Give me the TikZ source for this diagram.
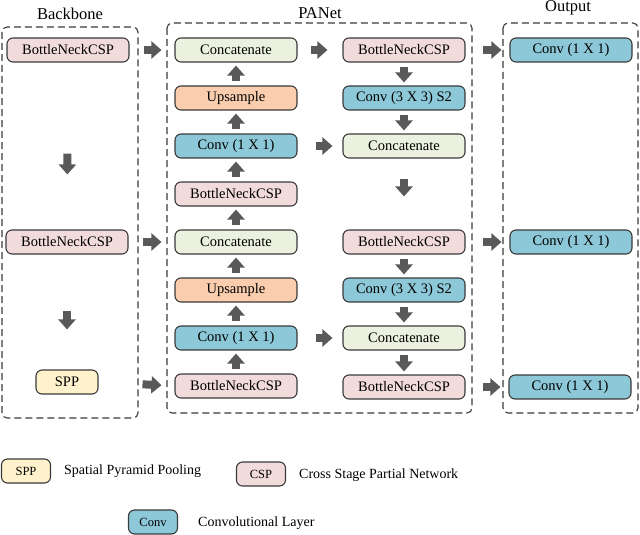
\documentclass[tikz,border=0pt]{standalone}
\usepackage{fontspec}
\setmainfont{Liberation Serif}
\usetikzlibrary{arrows.meta}
\definecolor{bordc}{HTML}{3A3A3A}
\definecolor{arrc}{HTML}{595959}
\definecolor{cspc}{HTML}{F2DCDB}
\definecolor{catc}{HTML}{EBF1DE}
\definecolor{upc}{HTML}{F9CDAE}
\definecolor{convc}{HTML}{8DC8D8}
\definecolor{sppc}{HTML}{FFF2CC}
\begin{document}
\begin{tikzpicture}[x=1pt,y=-1pt,
  box/.style={draw=bordc, line width=1.1pt, rounded corners=6pt, minimum width=122pt, minimum height=24pt, inner sep=0pt, font=\fontsize{14.5}{16}\selectfont},
  csp/.style={box, fill=cspc},
  cat/.style={box, fill=catc},
  ups/.style={box, fill=upc},
  conv/.style={box, fill=convc},
  sppbox/.style={box, fill=sppc},
  legbox/.style={box, minimum width=49pt, font=\fontsize{12.5}{14}\selectfont},
  legtxt/.style={anchor=west, inner sep=0pt, font=\fontsize{14}{16}\selectfont},
  title/.style={inner sep=0pt, font=\fontsize{16.5}{18}\selectfont},
  dashbox/.style={draw=bordc, line width=1.1pt, dash pattern=on 7pt off 4pt, rounded corners=5pt},
  blk/.style={draw=arrc, line width=8pt, -{Triangle[width=17pt,length=10pt]}}
]
\useasboundingbox (0,0) rectangle (640,535);
% frames
\draw[dashbox] (2,27) rectangle (138,418);
\draw[dashbox] (167,23) rectangle (472,413);
\draw[dashbox] (503,23) rectangle (638,413);
\node[title] (tb) at (70,14) {Backbone};
\node[title] (tp) at (320,13) {PANet};
\node[title] (to) at (568,8) {Output};
% backbone
\node[csp] (b1) at (68,50) {BottleNeckCSP};
\node[csp] (b2) at (67,242) {BottleNeckCSP};
\node[sppbox, minimum width=62pt] (spp) at (67,382) {SPP};
% PANet left
\node[cat]  (l1) at (236,50)  {Concatenate};
\node[ups]  (l2) at (236,98)  {Upsample};
\node[conv] (l3) at (236,146) {Conv (1 X 1)};
\node[csp]  (l4) at (236,194) {BottleNeckCSP};
\node[cat]  (l5) at (236,242) {Concatenate};
\node[ups]  (l6) at (236,290) {Upsample};
\node[conv] (l7) at (236,338) {Conv (1 X 1)};
\node[csp]  (l8) at (236,386) {BottleNeckCSP};
% PANet right
\node[csp]  (r1) at (404,50)  {BottleNeckCSP};
\node[conv] (r2) at (404,98)  {Conv (3 X 3) S2};
\node[cat]  (r3) at (404,146) {Concatenate};
\node[csp]  (r4) at (404,242) {BottleNeckCSP};
\node[conv] (r5) at (404,290) {Conv (3 X 3) S2};
\node[cat]  (r6) at (404,338) {Concatenate};
\node[csp]  (r7) at (404,387) {BottleNeckCSP};
% output
\node[conv] (o1) at (571,50)  {Conv (1 X 1)};
\node[conv] (o2) at (571,242) {Conv (1 X 1)};
\node[conv] (o3) at (570,387) {Conv (1 X 1)};
% arrows backbone
\draw[blk, shorten <=14pt, shorten >=13pt] (b1.east) -- (l1.west);
\draw[blk, shorten <=14pt, shorten >=13pt] (b2.east) -- (l5.west);
\draw[blk, shorten <=44pt, shorten >=13pt] (spp.east) -- (l8.west);
\draw[blk, shorten <=91pt, shorten >=55pt] (b1.south) -- (b2.north);
\draw[blk, shorten <=56pt, shorten >=40pt] (b2.south) -- (spp.north);
% left column up
\foreach \a/\b in {l2/l1,l3/l2,l4/l3,l5/l4,l6/l5,l7/l6,l8/l7}
  \draw[blk, shorten <=4pt, shorten >=3pt] (\a.north) -- (\b.south);
% across
\draw[blk, shorten <=13pt, shorten >=15pt] (l1.east) -- (r1.west);
\draw[blk, shorten <=18pt, shorten >=10pt] (l3.east) -- (r3.west);
\draw[blk, shorten <=18pt, shorten >=10pt] (l7.east) -- (r6.west);
% right column down
\foreach \a/\b in {r1/r2,r2/r3,r4/r5,r5/r6,r6/r7}
  \draw[blk, shorten <=4pt, shorten >=3pt] (\a.south) -- (\b.north);
\draw[blk, shorten <=20pt, shorten >=33pt] (r3.south) -- (r4.north);
% to output
\draw[blk, shorten <=17pt, shorten >=8pt] (r1.east) -- (o1.west);
\draw[blk, shorten <=17pt, shorten >=8pt] (r4.east) -- (o2.west);
\draw[blk, shorten <=17pt, shorten >=8pt] (r7.east) -- (o3.west);
% legend
\node[legbox, fill=sppc] (lspp) at (26,471) {SPP};
\node[legtxt] (tspp) at (64,471) {Spatial Pyramid Pooling};
\node[legbox, fill=cspc] (lcsp) at (261,474) {CSP};
\node[legtxt] (tcsp) at (299,475) {Cross Stage Partial Network};
\node[legbox, fill=convc] (lconv) at (153,522) {Conv};
\node[legtxt] (tconv) at (198,523) {Convolutional Layer};
\end{tikzpicture}
\end{document}
